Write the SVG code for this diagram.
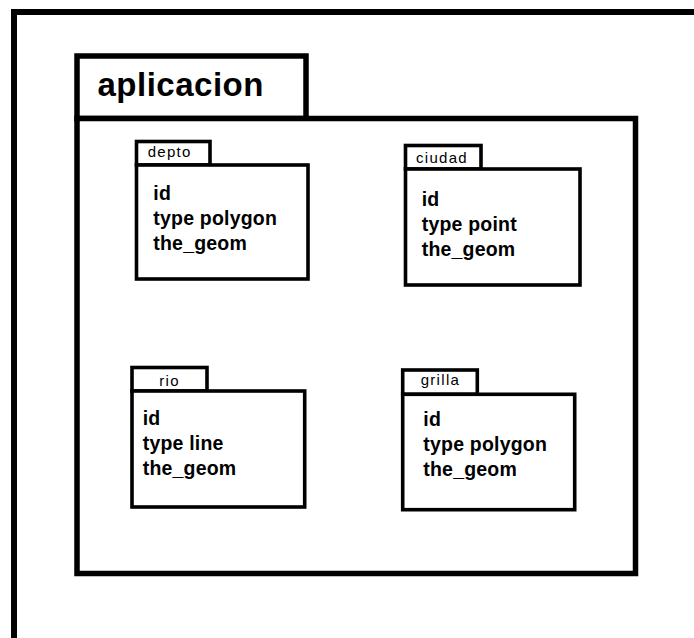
<svg xmlns="http://www.w3.org/2000/svg" width="694" height="638" viewBox="0 0 694 638">
<style>
.frame{fill:none;stroke:#000;stroke-width:6}
.pkg{fill:#fff;stroke:#000;stroke-width:5.5}
.box{fill:#fff;stroke:#000;stroke-width:3.6}
.title{font-family:"Liberation Sans",Arial,sans-serif;font-weight:bold;font-size:33px;letter-spacing:0.5px;fill:#000}
.tab{font-family:"Liberation Sans",Arial,sans-serif;font-size:15px;letter-spacing:1.3px;fill:#000}
.attr{font-family:"Liberation Sans",Arial,sans-serif;font-weight:bold;font-size:19.5px;letter-spacing:0.2px;fill:#000}
</style>
<rect width="694" height="638" fill="#fff"/>
<path class="frame" d="M14,638 V12 H694"/>
<g id="aplicacion">
<rect class="pkg" x="77" y="56" width="229" height="62.5"/>
<rect class="pkg" x="77" y="118.5" width="558.5" height="455"/>
<text class="title" x="97.5" y="96">aplicacion</text>
</g>
<g id="depto">
<rect class="box" x="136.5" y="141.5" width="73.5" height="23.5"/>
<rect class="box" x="136.5" y="165" width="171.5" height="114"/>
<text class="tab" x="147.7" y="156.7">depto</text>
<text class="attr" x="153.3" y="200">id</text>
<text class="attr" x="153.3" y="225">type polygon</text>
<text class="attr" x="153.3" y="250">the_geom</text>
</g>
<g id="ciudad">
<rect class="box" x="405.5" y="145.5" width="75.5" height="23.5"/>
<rect class="box" x="405.5" y="169" width="174.5" height="116"/>
<text class="tab" x="416" y="162.7">ciudad</text>
<text class="attr" x="421.7" y="206">id</text>
<text class="attr" x="421.7" y="231">type point</text>
<text class="attr" x="421.7" y="256">the_geom</text>
</g>
<g id="rio">
<rect class="box" x="132" y="367.5" width="75" height="23.5"/>
<rect class="box" x="132" y="391" width="172.7" height="116"/>
<text class="tab" x="159.3" y="386">rio</text>
<text class="attr" x="142.7" y="425">id</text>
<text class="attr" x="142.7" y="450">type line</text>
<text class="attr" x="142.7" y="475">the_geom</text>
</g>
<g id="grilla">
<rect class="box" x="402.7" y="370" width="74.6" height="24.3"/>
<rect class="box" x="402.7" y="394.3" width="172" height="115.4"/>
<text class="tab" x="420.7" y="385">grilla</text>
<text class="attr" x="423.3" y="425.7">id</text>
<text class="attr" x="423.3" y="450.7">type polygon</text>
<text class="attr" x="423.3" y="475.7">the_geom</text>
</g>
<g id="connectors"></g>
</svg>
